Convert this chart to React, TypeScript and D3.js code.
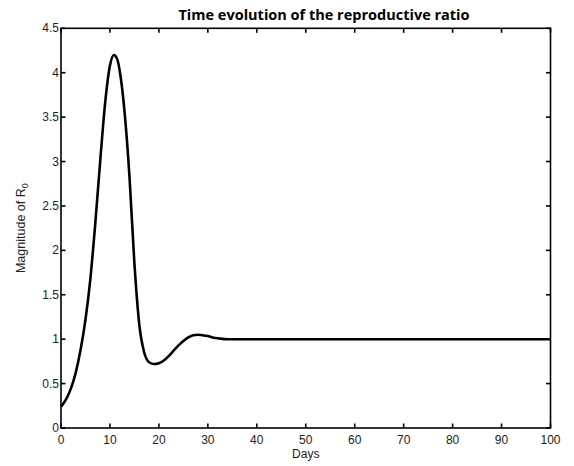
import React from "react";
import * as d3 from "d3";

const days = [0, 1, 2, 3, 4, 5, 6, 7, 8, 9, 10, 10.8, 11.5, 12, 13, 14, 15, 16, 17, 18, 19, 20, 21, 22, 23, 24, 25, 26, 27, 28, 29, 30, 31, 32, 33, 34, 40, 50, 60, 70, 80, 90, 100];
const r0Values = [0.24, 0.32, 0.44, 0.62, 0.88, 1.22, 1.68, 2.3, 3.0, 3.65, 4.08, 4.2, 4.15, 4.02, 3.55, 2.82, 1.85, 1.16, 0.85, 0.74, 0.72, 0.73, 0.76, 0.81, 0.87, 0.93, 0.98, 1.02, 1.045, 1.05, 1.045, 1.035, 1.02, 1.01, 1.003, 1.0, 1.0, 1.0, 1.0, 1.0, 1.0, 1.0, 1.0];
const xTicks = [0, 10, 20, 30, 40, 50, 60, 70, 80, 90, 100];
const yTicks = [0, 0.5, 1, 1.5, 2, 2.5, 3, 3.5, 4, 4.5];
const title = "Time evolution of the reproductive ratio";
const xLabel = "Days";

export default function App() {
  const W = 574, H = 466;
  const m = { left: 61, right: 550.5, top: 28.3, bottom: 428 };
  const x = d3.scaleLinear().domain([0, 100]).range([m.left, m.right]);
  const y = d3.scaleLinear().domain([0, 4.5]).range([m.bottom, m.top]);
  const pts: [number, number][] = days.map((d, i) => [d, r0Values[i]]);
  const line = d3.line<[number, number]>().x(d => x(d[0])).y(d => y(d[1])).curve(d3.curveMonotoneX);
  const tl = 4.5;
  const font = "'Liberation Sans', Arial, sans-serif";
  return (
    <div style={{ position: "absolute", left: 0, top: 0 }}>
      <svg width={W} height={H} style={{ display: "block", background: "#fff" }}>
        <rect width={W} height={H} fill="#fff" />
        <path d={line(pts) || ""} fill="none" stroke="#000" strokeWidth={2.6} strokeLinejoin="round" />
        <rect x={m.left} y={m.top} width={m.right - m.left} height={m.bottom - m.top} fill="none" stroke="#000" strokeWidth={1.6} />
        {xTicks.map(t => (
          <g key={"x" + t}>
            <line x1={x(t)} x2={x(t)} y1={m.bottom} y2={m.bottom - tl} stroke="#000" strokeWidth={1.6} />
            <line x1={x(t)} x2={x(t)} y1={m.top} y2={m.top + tl} stroke="#000" strokeWidth={1.6} />
            <text x={x(t)} y={m.bottom + 15.5} textAnchor="middle" fontFamily={font} fontSize={12} fill="#222">{t}</text>
          </g>
        ))}
        {yTicks.map(t => (
          <g key={"y" + t}>
            <line x1={m.left} x2={m.left + tl} y1={y(t)} y2={y(t)} stroke="#000" strokeWidth={1.6} />
            <line x1={m.right} x2={m.right - tl} y1={y(t)} y2={y(t)} stroke="#000" strokeWidth={1.6} />
            <text x={m.left - 2} y={y(t) + 4} textAnchor="end" fontFamily={font} fontSize={12} fill="#222">{d3.format("")(t)}</text>
          </g>
        ))}
        <text x={(m.left + m.right) / 2} y={458} textAnchor="middle" fontFamily={font} fontSize={12} fill="#222">{xLabel}</text>
        <text transform={`translate(25,${(m.top + m.bottom) / 2}) rotate(-90)`} textAnchor="middle" fontFamily={font} fontSize={12.5} fill="#222">
          Magnitude of R<tspan fontSize={9} dy={3}>0</tspan>
        </text>
        <text x={324} y={20} textAnchor="middle" fontFamily="'Open Sans', sans-serif" fontWeight="bold" fontSize={14.5} fill="#000">{title}</text>
      </svg>
    </div>
  );
}
